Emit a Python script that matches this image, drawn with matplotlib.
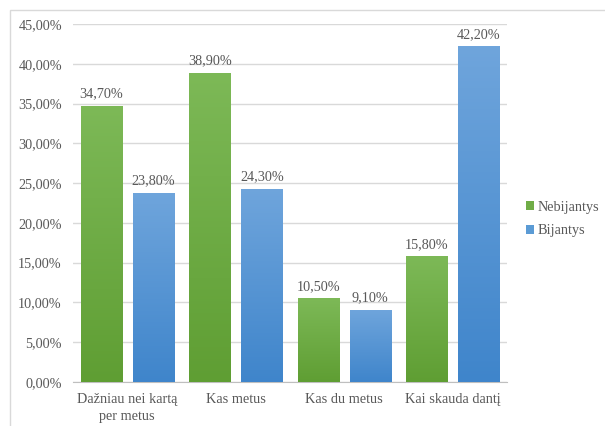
import matplotlib
matplotlib.use("Agg")
import matplotlib.pyplot as plt
import numpy as np
from matplotlib.patches import Rectangle
from matplotlib.colors import LinearSegmentedColormap

categories = ["Dažniau nei kartą\nper metus", "Kas metus", "Kas du metus", "Kai skauda dantį"]
series_names = ["Nebijantys", "Bijantys"]
nebijantys = [34.70, 38.90, 10.50, 15.80]
bijantys = [23.80, 24.30, 9.10, 42.20]
yticks = [0, 5, 10, 15, 20, 25, 30, 35, 40, 45]

plt.rcParams["font.family"] = "serif"
plt.rcParams["font.serif"] = ["Liberation Serif", "Times New Roman", "DejaVu Serif"]
text_col = "#595959"

fig = plt.figure(figsize=(6.05, 4.26), dpi=100)
W, H = 605, 426
# chart border
fig.add_artist(Rectangle((10 / W, -0.01), (W - 10) / W + 0.01, (H - 10) / H + 0.01,
                         transform=fig.transFigure, fill=False,
                         edgecolor="#d9d9d9", linewidth=1.0))

ax = fig.add_axes([73 / W, 1 - 382 / H, (507 - 73) / W, (382 - 24) / H])

bw = 0.378
off = 0.24
grad = {
    "Nebijantys": LinearSegmentedColormap.from_list("g", ["#5f9e33", "#7db957"]),
    "Bijantys": LinearSegmentedColormap.from_list("b", ["#3f85cb", "#6fa5dc"]),
}
solid = {"Nebijantys": "#70ad47", "Bijantys": "#5b9bd5"}
g = np.linspace(0, 1, 256).reshape(-1, 1)

for name, vals, sgn in [("Nebijantys", nebijantys, -1), ("Bijantys", bijantys, 1)]:
    xs = np.arange(len(categories)) + sgn * off
    bars = ax.bar(xs, vals, width=bw, color=solid[name], label=name, zorder=2)
    for b, v in zip(bars, vals):
        x0 = b.get_x()
        im = ax.imshow(g, cmap=grad[name], origin="lower", aspect="auto",
                       extent=(x0, x0 + bw, 0, v), zorder=3)
        im.set_clip_path(b)
        ax.annotate(f"{v:.2f}%".replace(".", ","), (x0 + bw / 2, v),
                    xytext=(0, 4), textcoords="offset points",
                    ha="center", va="bottom", fontsize=10.2, color=text_col)

ax.set_xlim(-0.5, 3.5)
ax.set_ylim(0, 45)
ax.set_yticks(yticks)
ax.set_yticklabels([f"{t:.2f}%".replace(".", ",") for t in yticks], fontsize=10.2)
ax.set_xticks(range(len(categories)))
ax.set_xticklabels(categories, linespacing=1.4, fontsize=10.3)
ax.tick_params(axis="both", length=0, colors=text_col)
ax.tick_params(axis="y", pad=8)
ax.tick_params(axis="x", pad=8)
ax.grid(axis="y", color="#d9d9d9", linewidth=1.0, zorder=0)
ax.set_axisbelow(True)
for s in ["top", "right", "left"]:
    ax.spines[s].set_visible(False)
ax.spines["bottom"].set_color("#bfbfbf")

handles, labels = ax.get_legend_handles_labels()
leg = fig.legend(handles, labels, loc="center left", bbox_to_anchor=(513 / W, 1 - 219 / H),
                 frameon=False, fontsize=10.3, handlelength=0.6, handleheight=0.6,
                 handletextpad=0.2, labelspacing=0.75, labelcolor=text_col)

fig.savefig("out.png", dpi=100)
